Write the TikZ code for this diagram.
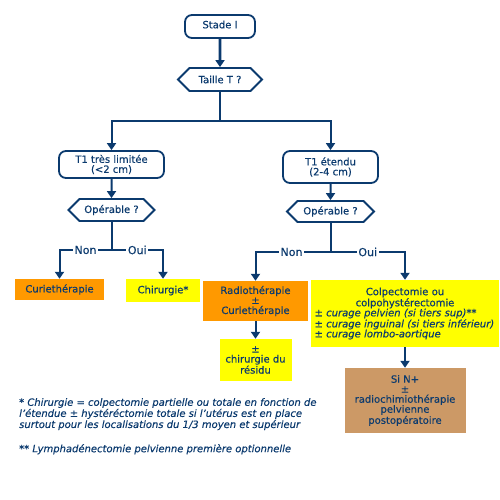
\documentclass[tikz,border=0pt]{standalone}
\usepackage{fontspec}
\setmainfont[FakeBold=0.4]{DejaVu Sans}
\usetikzlibrary{shapes.symbols,arrows.meta}
\definecolor{navy}{HTML}{0B3A6E}
\definecolor{orbox}{HTML}{FF9900}
\definecolor{yebox}{HTML}{FFFF00}
\definecolor{tanbox}{HTML}{CC9966}
\begin{document}
\begin{tikzpicture}[x=1pt,y=-1pt,font=\fontsize{10}{10}\selectfont,text=navy,
 rbox/.style={draw=navy,line width=1.8pt,rounded corners=7pt,fill=white,align=center,inner sep=0pt},
 hexa/.style={draw=navy,line width=1.8pt,signal,signal to=west and east,signal pointer angle=90,fill=white,inner sep=0pt},
 fbox/.style={inner sep=0pt,align=center},
 conn/.style={draw=navy,line width=2pt},
 arr/.style={conn,-{Triangle[length=7pt,width=9pt]}},
 lbl/.style={fill=white,inner sep=1.5pt,text=navy,font=\fontsize{11}{11}\selectfont},
 foot/.style={anchor=north west,align=left,inner sep=0pt,font=\fontsize{10}{10}\selectfont\itshape}]
\useasboundingbox (0,0) rectangle (500,500);
% nodes
\node[rbox,minimum width=70pt,minimum height=23pt,text depth=4pt] (stade) at (220,26.5) {Stade I};
\node[hexa,minimum width=84pt,minimum height=23pt] (taille) at (220,79.5) {Taille T ?};
\node[rbox,minimum width=105pt,minimum height=27pt] (t1a) at (111.5,164.5) {T1 très limitée\\(<2 cm)};
\node[hexa,minimum width=86pt,minimum height=22pt] (opa) at (111.5,210) {Opérable ?};
\node[rbox,minimum width=95pt,minimum height=32pt] (t1b) at (330.5,167) {T1 étendu\\(2-4 cm)};
\node[hexa,minimum width=87pt,minimum height=21pt] (opb) at (330.5,211.5) {Opérable ?};
\node[fbox,fill=orbox,minimum width=89pt,minimum height=21pt] (curie) at (59.5,289.5) {Curiethérapie};
\node[fbox,fill=yebox,minimum width=74pt,minimum height=23pt] (chir) at (163,290.5) {Chirurgie*};
\node[fbox,fill=orbox,minimum width=105pt,minimum height=40pt] (radio) at (255.5,301) {Radiothérapie\\±\\Curiethérapie};
\node[fbox,fill=yebox,minimum width=72pt,minimum height=42pt] (resid) at (255.5,360) {±\\chirurgie du\\résidu};
\node[fbox,fill=yebox,minimum width=188pt,minimum height=67pt,text width=181pt,align=left] (colp) at (405,313.5)
  {{\centering Colpectomie ou\\colpohystérectomie\par}\raggedright\itshape ± curage pelvien (si tiers sup)**\\± curage inguinal (si tiers inférieur)\\± curage lombo-aortique\par};
\node[fbox,fill=tanbox,minimum width=121pt,minimum height=65pt] (sin) at (405,400.5) {Si N+\\±\\radiochimiothérapie\\pelvienne\\postopératoire};
% connectors
\draw[arr,line width=2.6pt] (stade) -- (taille);
\coordinate (split) at (220,120.5);
\draw[conn] (taille.south) -- (split);
\draw[arr] (split) -| (t1a.north);
\draw[arr] (split) -| (t1b.north);
\draw[arr] (t1a) -- (opa);
\draw[arr] (t1b) -- (opb);
\coordinate (spa) at (111.5,250);
\coordinate (spb) at (330.5,252);
\draw[conn] (opa.south) -- (spa);
\draw[conn] (opb.south) -- (spb);
\draw[arr] (spa) -| node[lbl,pos=0.25] (nona) {Non} (curie.north);
\draw[arr] (spa) -| node[lbl,pos=0.25] (ouia) {Oui} (chir.north);
\draw[arr] (spb) -| node[lbl,pos=0.26] (nonb) {Non} (radio.north);
\draw[arr] (spb) -| node[lbl,pos=0.25] (ouib) {Oui} (colp.north);
\draw[arr] (radio) -- (resid);
\draw[arr] (colp) -- (sin);
% footnotes
\node[foot] (fn1) at (19,398) {* Chirurgie = colpectomie partielle ou totale en fonction de\\l'étendue ± hystéréctomie totale si l'utérus est en place\\surtout pour les localisations du 1/3 moyen et supérieur};
\node[foot] (fn2) at (19,444) {** Lymphadénectomie pelvienne première optionnelle};
\end{tikzpicture}
\end{document}
